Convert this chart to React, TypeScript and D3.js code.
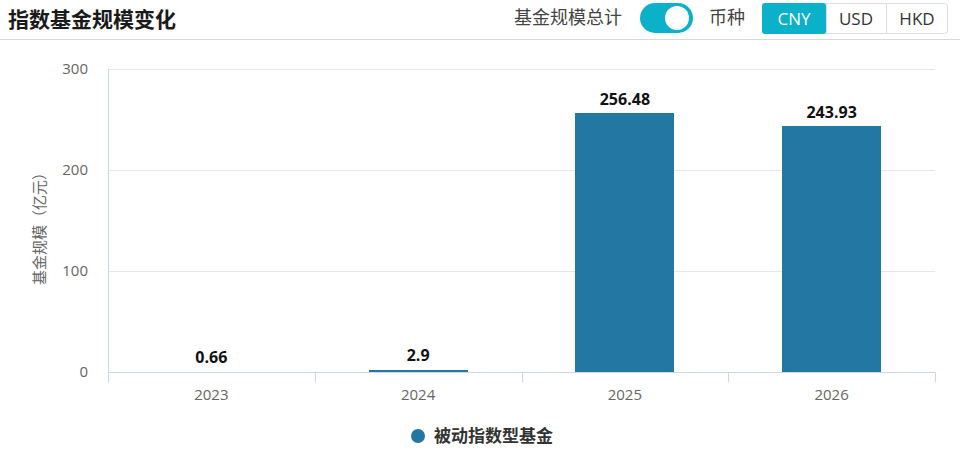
import { useEffect, useRef } from 'react';
import * as d3 from 'd3';

const YEARS = ['2023', '2024', '2025', '2026'];
const SCALE = [0.66, 2.9, 256.48, 243.93];
const Y_TICKS = [0, 100, 200, 300];
const SERIES_NAME = '被动指数型基金';
const CURRENCIES = ['CNY', 'USD', 'HKD'];

const W = 960, H = 452;
const M = { left: 108, right: 25, top: 69, bottom: 80 };
const BAR = '#2277a3';
const TEAL = '#0bb0c9';
const FONT = '"Noto Sans CJK SC", "Noto Sans", sans-serif';
const NUM_FONT = '"Open Sans", "Noto Sans", sans-serif';

export default function App() {
  const svgRef = useRef<SVGSVGElement>(null);

  useEffect(() => {
    if (!svgRef.current) return;
    const svg = d3.select(svgRef.current);
    svg.selectAll('*').remove();
    svg.attr('width', W).attr('height', H).attr('viewBox', `0 0 ${W} ${H}`)
      .style('font-family', FONT);

    // header
    svg.append('text').attr('x', 8).attr('y', 27)
      .attr('font-size', 21).attr('font-weight', 700).attr('fill', '#1a1a1a')
      .text('指数基金规模变化');
    svg.append('line').attr('x1', 0).attr('x2', W).attr('y1', 39.5).attr('y2', 39.5)
      .attr('stroke', '#d9d9d9');

    svg.append('text').attr('x', 622).attr('y', 24).attr('text-anchor', 'end')
      .attr('font-size', 18).attr('fill', '#444').text('基金规模总计');
    svg.append('rect').attr('x', 640).attr('y', 3).attr('width', 53).attr('height', 30)
      .attr('rx', 15).attr('fill', TEAL);
    svg.append('circle').attr('cx', 677).attr('cy', 18).attr('r', 12).attr('fill', '#fff');
    svg.append('text').attr('x', 709).attr('y', 24)
      .attr('font-size', 18).attr('fill', '#444').text('币种');

    const btnX = [762, 826, 886, 948];
    const btns = svg.append('g');
    btns.append('rect').attr('x', 762.5).attr('y', 3.5).attr('width', 185).attr('height', 30)
      .attr('rx', 3).attr('fill', '#fff').attr('stroke', '#ddd');
    CURRENCIES.forEach((c, i) => {
      if (i === 0) {
        btns.append('rect').attr('x', btnX[0]).attr('y', 3).attr('width', btnX[1] - btnX[0]).attr('height', 31)
          .attr('rx', 3).attr('fill', TEAL);
      } else {
        btns.append('line').attr('x1', btnX[i] + 0.5).attr('x2', btnX[i] + 0.5)
          .attr('y1', 4).attr('y2', 33).attr('stroke', '#ddd');
      }
      btns.append('text').attr('x', (btnX[i] + btnX[i + 1]) / 2).attr('y', 25)
        .attr('text-anchor', 'middle').attr('font-size', 17)
        .attr('font-family', NUM_FONT)
        .attr('fill', i === 0 ? '#fff' : '#333').text(c);
    });

    // chart
    const x = d3.scaleBand().domain(YEARS).range([M.left, W - M.right]).padding(0);
    const y = d3.scaleLinear().domain([0, 300]).range([H - M.bottom, M.top]);
    const barW = x.step() * 0.48;

    const grid = svg.append('g');
    grid.selectAll('line').data(Y_TICKS.filter(t => t > 0)).enter().append('line')
      .attr('x1', M.left).attr('x2', W - M.right)
      .attr('y1', d => Math.round(y(d)) + 0.5).attr('y2', d => Math.round(y(d)) + 0.5)
      .attr('stroke', '#e6e6e6');

    svg.append('g').selectAll('text').data(Y_TICKS).enter().append('text')
      .attr('x', 88).attr('y', d => y(d) + 5).attr('text-anchor', 'end')
      .attr('font-size', 15).attr('fill', '#666')
      .attr('font-family', NUM_FONT)
      .text(d => d);

    svg.append('text')
      .attr('transform', `translate(45,225) rotate(-90)`)
      .attr('text-anchor', 'middle').attr('font-size', 15).attr('fill', '#666')
      .text('基金规模（亿元）');

    // crisp bar heights: sub-pixel bars (0.66) disappear as in the original
    const base = Math.round(y(0));
    const barH = (v: number) => Math.max(0, Math.round(y(0) - y(v) - 0.5));
    const data = YEARS.map((d, i) => ({ year: d, v: SCALE[i] }));
    svg.append('g').selectAll('rect').data(data).enter().append('rect')
      .attr('x', d => Math.round((x(d.year) as number) + (x.step() - barW) / 2))
      .attr('width', Math.round(barW))
      .attr('y', d => base - barH(d.v))
      .attr('height', d => barH(d.v))
      .attr('fill', BAR);

    const y0 = base + 0.5;
    svg.append('line').attr('x1', M.left + 0.5).attr('x2', M.left + 0.5)
      .attr('y1', M.top).attr('y2', y0 + 10).attr('stroke', '#ccd6eb');
    svg.append('line').attr('x1', M.left).attr('x2', W - M.right)
      .attr('y1', y0).attr('y2', y0).attr('stroke', '#ccd6eb');
    const tickXs = [...YEARS.map(d => x(d) as number), W - M.right];
    svg.append('g').selectAll('line').data(tickXs.slice(1)).enter().append('line')
      .attr('x1', d => Math.round(d) + 0.5).attr('x2', d => Math.round(d) + 0.5)
      .attr('y1', y0).attr('y2', y0 + 10).attr('stroke', '#ccd6eb');

    svg.append('g').selectAll('text').data(YEARS).enter().append('text')
      .attr('x', d => (x(d) as number) + x.step() / 2).attr('y', y0 + 27)
      .attr('text-anchor', 'middle').attr('font-size', 15).attr('fill', '#666')
      .attr('font-family', NUM_FONT)
      .text(d => d);

    svg.append('g').selectAll('text').data(data).enter().append('text')
      .attr('x', d => (x(d.year) as number) + x.step() / 2)
      .attr('y', d => y(d.v) - 8)
      .attr('text-anchor', 'middle').attr('font-size', 16).attr('font-weight', 700)
      .attr('fill', '#111')
      .attr('font-family', NUM_FONT)
      .text(d => d.v);

    // legend
    svg.append('circle').attr('cx', 418).attr('cy', 436).attr('r', 7).attr('fill', BAR);
    svg.append('text').attr('x', 434).attr('y', 442).attr('font-size', 17)
      .attr('font-weight', 700).attr('fill', '#333').text(SERIES_NAME);
  }, []);

  return (
    <div style={{ position: 'absolute', left: 0, top: 0, width: W, height: H, background: '#fff' }}>
      <svg ref={svgRef} style={{ display: 'block' }} />
    </div>
  );
}
